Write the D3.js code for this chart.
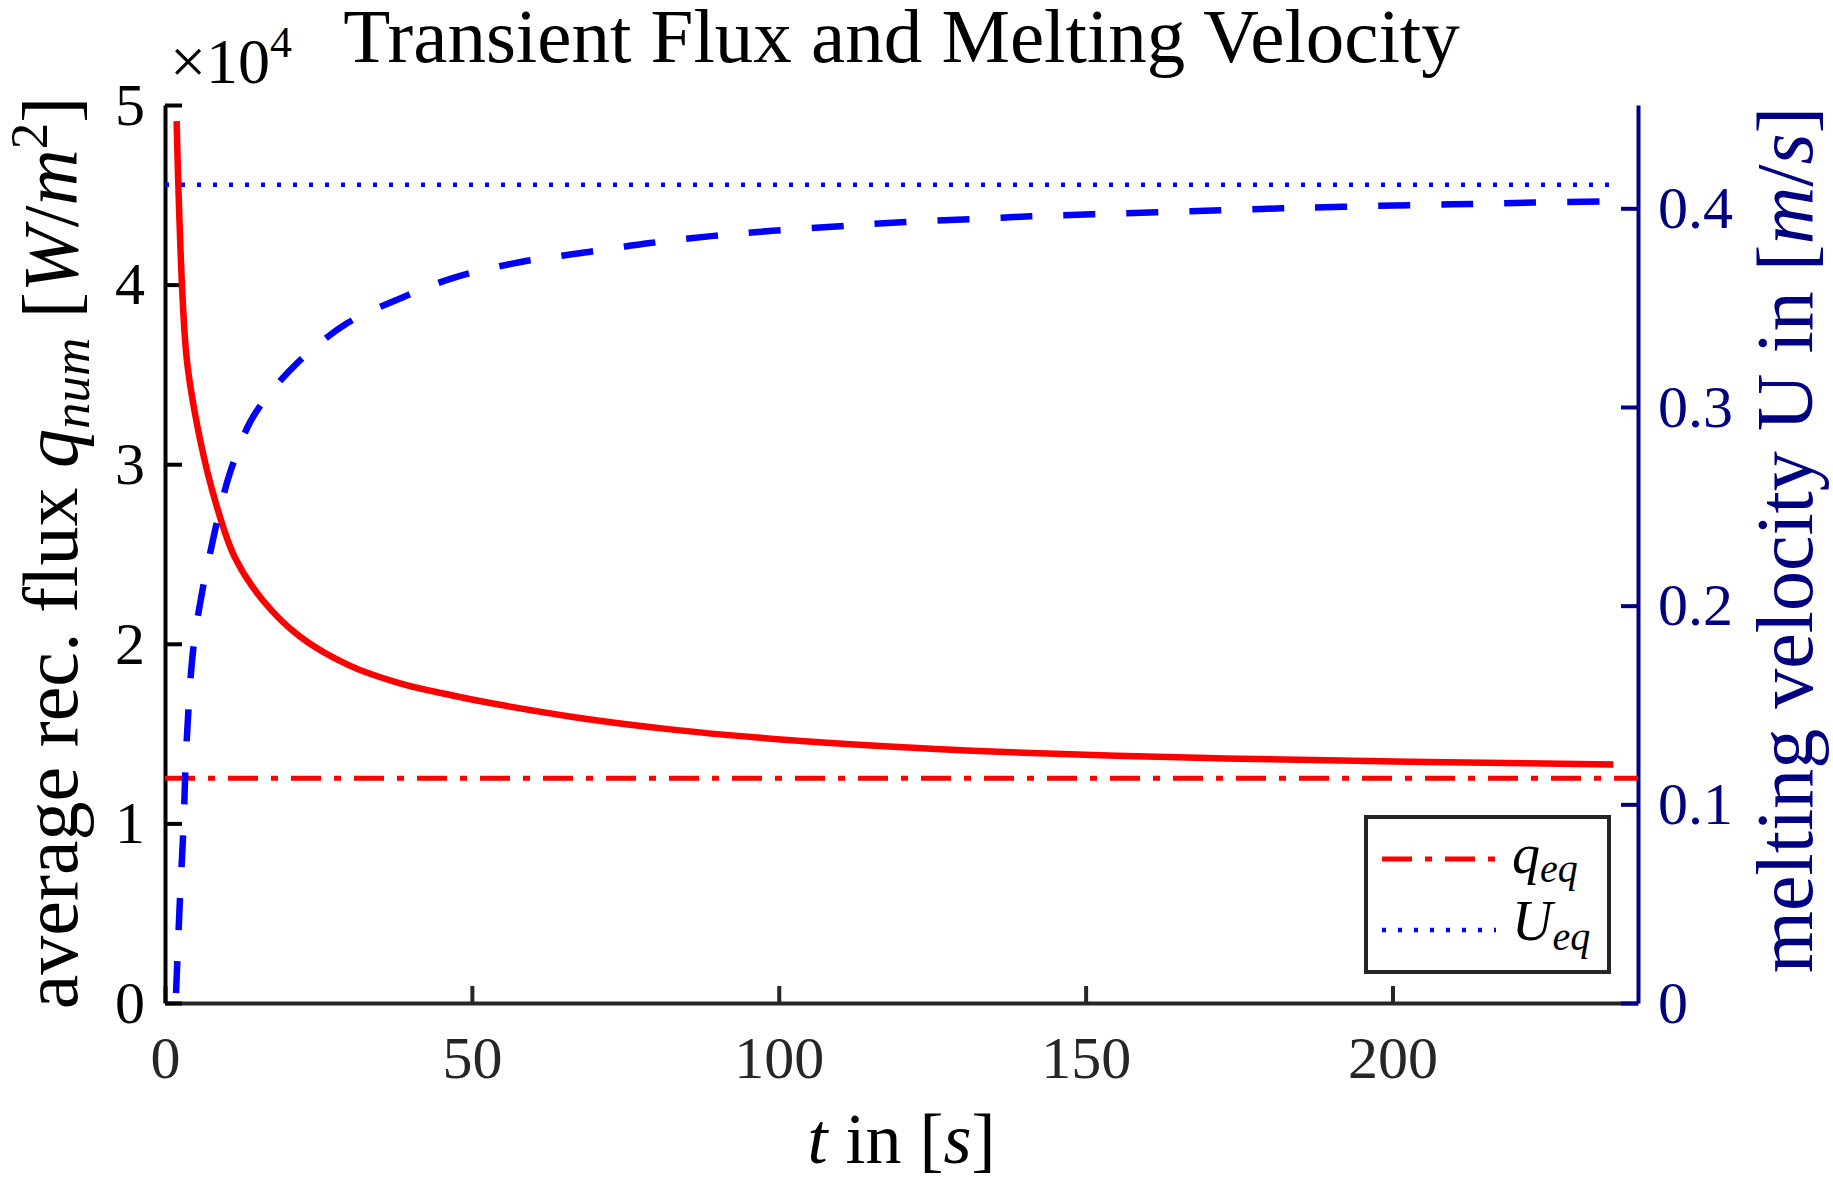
<!DOCTYPE html>
<html>
<head>
<meta charset="utf-8">
<script src="https://cdn.jsdelivr.net/npm/d3@7"></script>
<style>
  body { margin: 0; background: #fff; }
  text { font-family: "Liberation Serif", "Times New Roman", serif; }
</style>
</head>
<body>
<svg id="chart" width="1833" height="1181"></svg>
<script>
// values
var fluxTime  = [1.9, 3.5, 5.7, 8.4, 11.4, 16, 22, 30, 38.3, 46.5, 53, 67, 82, 96.5, 111, 125.6, 140, 155, 170, 187, 212, 236];
var fluxValue = [49100, 36000, 31400, 27700, 24800, 22400, 20400, 18800, 17800, 17150, 16700, 15900, 15250, 14780, 14420, 14140, 13930, 13770, 13640, 13530, 13390, 13280];

var velTime  = [1.8, 2.4, 3.0, 3.5, 4.6, 6.0, 7.6, 8.7, 10.6, 13.8, 16.6, 21.5, 29.6, 38.6, 47, 58, 69, 79, 89, 99, 110, 120, 131, 141, 151, 161.5, 172, 182, 192, 203, 213, 223, 236];
var velValue = [0.005, 0.05, 0.088, 0.13, 0.178, 0.206, 0.230, 0.245, 0.267, 0.292, 0.305, 0.322, 0.342, 0.355, 0.365, 0.373, 0.378, 0.3825, 0.386, 0.3887, 0.391, 0.393, 0.3945, 0.396, 0.397, 0.398, 0.399, 0.400, 0.4008, 0.4016, 0.4022, 0.4029, 0.4035];

var qEq = 12520;   // W/m^2
var uEq = 0.4118;  // m/s

var xTicks = [0, 50, 100, 150, 200];
var fluxTicks = [0, 10000, 20000, 30000, 40000, 50000];
var velTicks = [0, 0.1, 0.2, 0.3, 0.4];

var plotLeft = 165, plotRight = 1638, plotTop = 105, plotBottom = 1003;
var navy = "#000080", grey = "#262626";

var svg = d3.select("#chart");

var x = d3.scaleLinear().domain([0, 240]).range([plotLeft, plotRight]);
var yL = d3.scaleLinear().domain([0, 50000]).range([plotBottom, plotTop]);
var yR = d3.scaleLinear().domain([0, 0.452]).range([plotBottom, plotTop]);

function styleAxis(g, color, size) {
  g.select(".domain").attr("stroke", color).attr("stroke-width", 4);
  g.selectAll(".tick line").attr("stroke", color).attr("stroke-width", 4);
  g.selectAll(".tick text").attr("fill", color).style("font-size", size + "px")
    .style("font-family", '"Liberation Serif", serif');
}

// bottom axis
var gx = svg.append("g")
  .attr("transform", "translate(0," + plotBottom + ")")
  .call(d3.axisBottom(x).tickValues(xTicks).tickSize(-17).tickSizeOuter(0).tickPadding(32));
styleAxis(gx, grey, 60);

// left axis
var gl = svg.append("g")
  .attr("transform", "translate(" + plotLeft + ",0)")
  .call(d3.axisLeft(yL).tickValues(fluxTicks).tickSize(-17).tickSizeOuter(0).tickPadding(20)
    .tickFormat(function (d) { return d / 10000; }));
styleAxis(gl, "#000", 60);

// right axis
var gr = svg.append("g")
  .attr("transform", "translate(" + plotRight + ",0)")
  .call(d3.axisRight(yR).tickValues(velTicks).tickSize(-17).tickSizeOuter(0).tickPadding(20)
    .tickFormat(function (d) { return d === 0 ? "0" : d.toFixed(1); }));
styleAxis(gr, navy, 60);

// exponent label
var ex = svg.append("text").attr("x", 170).attr("y", 83).attr("fill", "#000").style("font-size", "64px");
ex.append("tspan").text("×10");
ex.append("tspan").attr("dy", -26).style("font-size", "44px").text("4");

// equilibrium lines
svg.append("line")
  .attr("x1", x(0)).attr("x2", x(240)).attr("y1", yL(qEq)).attr("y2", yL(qEq))
  .attr("stroke", "#ff0000").attr("stroke-width", 5).attr("stroke-dasharray", "30 13 7 13");
svg.append("line")
  .attr("x1", x(0)).attr("x2", x(236)).attr("y1", yR(uEq)).attr("y2", yR(uEq))
  .attr("stroke", "#0000ff").attr("stroke-width", 4.5).attr("stroke-dasharray", "4 12");

// transient curves
var fluxLine = d3.line()
  .x(function (d, i) { return x(fluxTime[i]); })
  .y(function (d) { return yL(d); })
  .curve(d3.curveCatmullRom.alpha(0.5));
svg.append("path").attr("d", fluxLine(fluxValue))
  .attr("fill", "none").attr("stroke", "#ff0000").attr("stroke-width", 6.5);

var velLine = d3.line()
  .x(function (d, i) { return x(velTime[i]); })
  .y(function (d) { return yR(d); })
  .curve(d3.curveCatmullRom.alpha(0.5));
svg.append("path").attr("d", velLine(velValue))
  .attr("fill", "none").attr("stroke", "#0000ff").attr("stroke-width", 6.5)
  .attr("stroke-dasharray", "32 31");

// title and axis labels
svg.append("text").attr("x", (plotLeft + plotRight) / 2).attr("y", 62).attr("text-anchor", "middle")
  .style("font-size", "77px").text("Transient Flux and Melting Velocity");

var xl = svg.append("text").attr("x", (plotLeft + plotRight) / 2).attr("y", 1163).attr("text-anchor", "middle")
  .style("font-size", "72px");
xl.append("tspan").style("font-style", "italic").text("t");
xl.append("tspan").text(" in [");
xl.append("tspan").style("font-style", "italic").text("s");
xl.append("tspan").text("]");

var yl = svg.append("text").attr("transform", "translate(77,553) rotate(-90)").attr("text-anchor", "middle")
  .style("font-size", "78px");
yl.append("tspan").text("average rec. flux ");
yl.append("tspan").style("font-style", "italic").text("q");
yl.append("tspan").attr("dy", 12).style("font-size", "53px").style("font-style", "italic").text("num");
yl.append("tspan").attr("dy", -12).text(" [");
yl.append("tspan").style("font-style", "italic").text("W");
yl.append("tspan").text("/");
yl.append("tspan").style("font-style", "italic").text("m");
yl.append("tspan").attr("dy", -30).style("font-size", "53px").text("2");
yl.append("tspan").attr("dy", 30).text("]");

var yr = svg.append("text").attr("transform", "translate(1812,540) rotate(-90)").attr("text-anchor", "middle")
  .attr("fill", navy).style("font-size", "80px");
yr.append("tspan").text("melting velocity U in [");
yr.append("tspan").style("font-style", "italic").text("m");
yr.append("tspan").text("/");
yr.append("tspan").style("font-style", "italic").text("s");
yr.append("tspan").text("]");

// legend
var lg = svg.append("g");
lg.append("rect").attr("x", 1366).attr("y", 817).attr("width", 243).attr("height", 155)
  .attr("fill", "#fff").attr("stroke", grey).attr("stroke-width", 4);
lg.append("line").attr("x1", 1382).attr("x2", 1496).attr("y1", 859).attr("y2", 859)
  .attr("stroke", "#ff0000").attr("stroke-width", 5).attr("stroke-dasharray", "30 13 7 13");
lg.append("line").attr("x1", 1382).attr("x2", 1496).attr("y1", 930).attr("y2", 930)
  .attr("stroke", "#0000ff").attr("stroke-width", 4.5).attr("stroke-dasharray", "4 12");
var l1 = lg.append("text").attr("x", 1512).attr("y", 873).style("font-size", "56px");
l1.append("tspan").style("font-style", "italic").text("q");
l1.append("tspan").attr("dy", 9).style("font-size", "40px").style("font-style", "italic").text("eq");
var l2 = lg.append("text").attr("x", 1512).attr("y", 940).style("font-size", "56px");
l2.append("tspan").style("font-style", "italic").text("U");
l2.append("tspan").attr("dy", 10).style("font-size", "40px").style("font-style", "italic").text("eq");
</script>
</body>
</html>
